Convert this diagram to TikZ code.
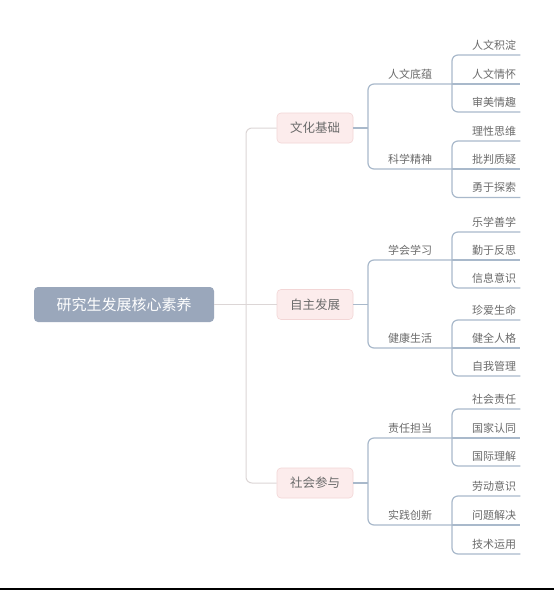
\documentclass[tikz,border=0pt]{standalone}
\usepackage{fontspec}
\setmainfont{Noto Sans CJK SC}
\begin{document}
\begin{tikzpicture}[x=1pt,y=-1pt,
  txt/.style={text=black!58, font=\fontsize{11}{12}\selectfont},
  rootbox/.style={draw=none, fill=rootcol, rounded corners=4pt, minimum width=180pt, minimum height=35pt, text=white, font=\fontsize{15}{16}\selectfont},
  l1box/.style={draw=l1border, fill=l1fill, line width=0.6pt, rounded corners=4pt, minimum width=76pt, minimum height=30pt, text=black!58, font=\fontsize{12.5}{14}\selectfont},
  l2node/.style={txt, anchor=south west, minimum width=84pt, inner xsep=0pt, inner ysep=4.5pt},
  leaf/.style={txt, anchor=south west, text width=60pt, align=right, inner xsep=4pt, inner ysep=4.5pt},
  rootline/.style={draw=rootln, line width=1pt, rounded corners=6pt},
  bline/.style={draw=blueln, line width=1.2pt, rounded corners=6pt}
]
\definecolor{rootcol}{HTML}{9AA7BB}
\definecolor{l1fill}{HTML}{FCECEC}
\definecolor{l1border}{HTML}{F3D6D6}
\definecolor{rootln}{HTML}{DCD6D6}
\definecolor{blueln}{HTML}{A9B9CB}
\useasboundingbox (0,0) rectangle (554,590);
\fill[white] (0,0) rectangle (554,590);
\fill[black] (0,588) rectangle (554,590);

% root
\node[rootbox] (root) at (124,304.5) {研究生发展核心素养};
\coordinate (spine) at (246,304.5);

% level 1
\node[l1box] (c1) at (315,128) {文化基础};
\node[l1box] (c2) at (315,304.5) {自主发展};
\node[l1box] (c3) at (315,483) {社会参与};

% level 2
\node[l2node] (a1) at (368,84) {人文底蕴};
\node[l2node] (a2) at (368,169) {科学精神};
\node[l2node] (b1) at (368,260) {学会学习};
\node[l2node] (b2) at (368,348) {健康生活};
\node[l2node] (d1) at (368,438) {责任担当};
\node[l2node] (d2) at (368,525) {实践创新};

% leaves
\node[leaf] (a11) at (452,55) {人文积淀};
\node[leaf] (a12) at (452,84) {人文情怀};
\node[leaf] (a13) at (452,112) {审美情趣};
\node[leaf] (a21) at (452,141) {理性思维};
\node[leaf] (a22) at (452,169) {批判质疑};
\node[leaf] (a23) at (452,197.5) {勇于探索};
\node[leaf] (b11) at (452,232) {乐学善学};
\node[leaf] (b12) at (452,260) {勤于反思};
\node[leaf] (b13) at (452,288) {信息意识};
\node[leaf] (b21) at (452,320) {珍爱生命};
\node[leaf] (b22) at (452,348) {健全人格};
\node[leaf] (b23) at (452,376) {自我管理};
\node[leaf] (d11) at (452,409) {社会责任};
\node[leaf] (d12) at (452,438) {国家认同};
\node[leaf] (d13) at (452,466) {国际理解};
\node[leaf] (d21) at (452,496) {劳动意识};
\node[leaf] (d22) at (452,525) {问题解决};
\node[leaf] (d23) at (452,554) {技术运用};

% root connectors
\draw[rootline] (root.east) -- (c2.west);
\draw[rootline] (c1.west) -- (c1.west -| spine) -- (c3.west -| spine) -- (c3.west);

% level1 -> level2
\foreach \p/\x/\y in {c1/a1/a2, c2/b1/b2, c3/d1/d2}{
  \draw[bline] (\p.east) -- (\p.east -| \x.south west);
  \draw[bline] (\x.south east) -- (\x.south west) -- (\y.south west) -- (\y.south east);
}

% level2 -> leaves
\foreach \l/\m/\n in {a11/a12/a13, a21/a22/a23, b11/b12/b13, b21/b22/b23, d11/d12/d13, d21/d22/d23}{
  \draw[bline] (\l.south east) -- (\l.south west) -- (\n.south west) -- (\n.south east);
  \draw[bline] (\m.south west) -- (\m.south east);
}
\end{tikzpicture}
\end{document}
